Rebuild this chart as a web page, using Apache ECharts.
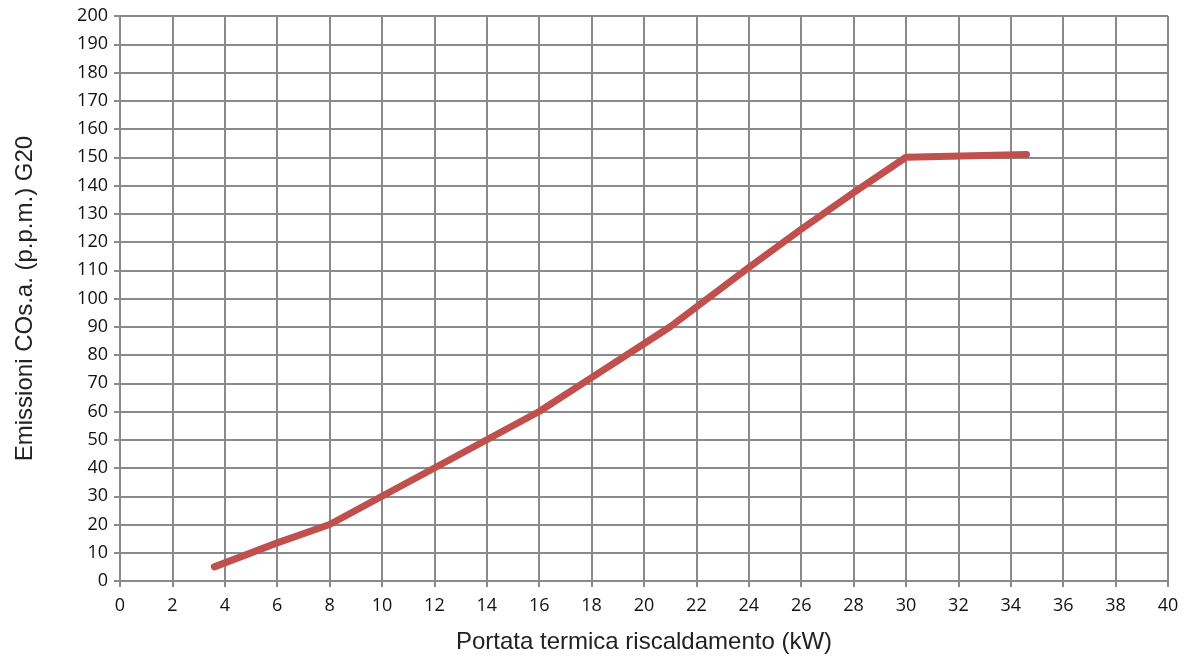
<!DOCTYPE html>
<html lang="it">
  <head>
    <meta charset="UTF-8" />
    <script src="https://cdn.jsdelivr.net/npm/echarts@6/dist/echarts.min.js"></script>
    <title>Emissioni CO</title>
    <style>
      body { margin: 0; background: #fff; }
    </style>
  </head>
  <body>
    <div id="container" style="width: 1191px; height: 664px;"></div>

    <script>
      // values
      const portata = [3.6, 6, 8, 10, 12, 14, 16, 18, 20, 21, 22, 24, 26, 28, 30, 34.6];
      const emissioni = [5, 13.5, 20, 30, 40, 50, 60, 72, 84, 90, 97, 111, 124.5, 137.5, 150, 151];

      const xName = "Portata termica riscaldamento (kW)";
      const yName = "Emissioni COs.a. (p.p.m.) G20";

      const gridColor = "#8a8a8a";
      const labelFont = "'Open Sans', 'Liberation Sans', sans-serif";
      const nameFont = "'Liberation Sans', Arial, sans-serif";

      const myChart = echarts.init(document.getElementById("container"));

      const option = {
        animation: false,
        grid: {
          left: 120,
          right: 23,
          top: 16,
          bottom: 83,
        },
        xAxis: {
          type: "value",
          min: 0,
          max: 40,
          interval: 2,
          name: xName,
          nameLocation: "middle",
          nameGap: 49,
          nameTextStyle: { fontFamily: nameFont, fontSize: 24, color: "#222" },
          axisLine: { lineStyle: { color: gridColor, width: 2 } },
          axisTick: { show: true, length: 6, lineStyle: { color: gridColor, width: 2 } },
          axisLabel: { fontFamily: labelFont, fontSize: 18, color: "#111", margin: 16 },
          splitLine: { show: true, lineStyle: { color: gridColor, width: 2 } },
        },
        yAxis: {
          type: "value",
          min: 0,
          max: 200,
          interval: 10,
          name: yName,
          nameLocation: "middle",
          nameGap: 83,
          nameTextStyle: { fontFamily: nameFont, fontSize: 24, color: "#222" },
          axisLine: { show: true, lineStyle: { color: gridColor, width: 2 } },
          axisTick: { show: true, length: 6, lineStyle: { color: gridColor, width: 2 } },
          axisLabel: { fontFamily: labelFont, fontSize: 18, color: "#111", margin: 12 },
          splitLine: { show: true, lineStyle: { color: gridColor, width: 2 } },
        },
        series: [
          {
            name: "Emissioni",
            type: "line",
            data: portata.map((x, i) => [x, emissioni[i]]),
            symbol: "none",
            lineStyle: { width: 7, color: "#c0504d", cap: "round", join: "round" },
          },
        ],
      };

      myChart.setOption(option);
    </script>
  </body>
</html>
